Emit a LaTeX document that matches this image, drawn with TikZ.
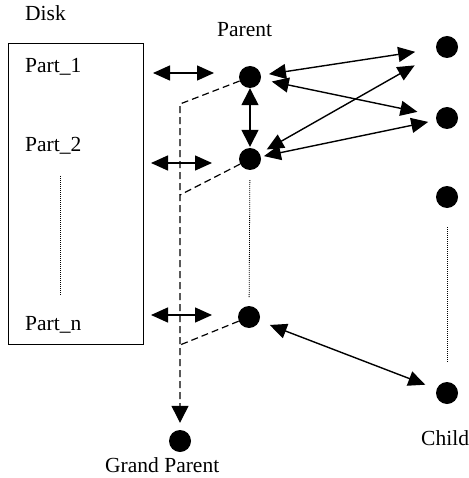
\documentclass[tikz,border=0pt]{standalone}
\usepackage{fontspec}
\setmainfont{Liberation Serif}
\usetikzlibrary{arrows.meta,positioning}

\tikzset{
  dot/.style={circle,fill=black,inner sep=0pt,minimum size=22pt},
  biarr/.style={{Triangle[length=17pt,width=15pt]}-{Triangle[length=17pt,width=15pt]},line width=1.4pt},
  dashline/.style={dash pattern=on 7pt off 4pt,line width=1.2pt},
  dotline/.style={dash pattern=on 1pt off 1pt,line width=0.8pt},
  lbl/.style={anchor=base west,inner sep=0pt,font=\fontsize{21.5}{24}\selectfont}
}

\begin{document}
\begin{tikzpicture}[x=1pt,y=-1pt]
\useasboundingbox (0,0) rectangle (468,478);

% Disk and its parts
\node[draw,line width=1pt,anchor=north west,inner sep=0pt,minimum width=135pt,minimum height=301pt] (disk) at (8,43) {};
\node[lbl] (disklbl) at (25,21) {Disk};
\foreach \n/\y in {1/73,2/152,n/330}
  \node[lbl] (part\n) at (25,\y) {Part\_\n};
\coordinate (d1) at (60,176);
\coordinate (d2) at (60,295);
\draw[dotline] (d1) -- (d2);

% Links between disk and parents
\foreach \i/\y/\xa/\xb in {1/73/153/214, 2/163/151/212, n/315/151/212} {
  \coordinate (al\i) at (\xa,\y);
  \coordinate (ar\i) at (\xb,\y);
  \draw[biarr] (al\i) -- (ar\i);
}

% Parents
\foreach \i/\y in {1/77,2/159}
  \node[dot] (p\i) at (250,\y) {};
\node[dot] (pn) at (249,317) {};
\node[lbl] (parentlbl) at (217,37) {Parent};
\draw[dotline,shorten <=10pt,shorten >=8pt] (p2) -- (pn);

% Children
\foreach \i/\y in {1/47,2/118,3/197,4/393}
  \node[dot] (c\i) at (447,\y) {};
\node[lbl] (childlbl) at (421,445) {Child};
\draw[dotline,shorten <=19pt,shorten >=19pt] (c3) -- (c4);

% Grand parent
\node[dot] (gp) at (180,441) {};
\node[lbl] (gplbl) at (105,472) {Grand Parent};

% Dashed links to grand parent
\coordinate (j1) at (180,104);
\coordinate (j2) at (180,195);
\coordinate (j3) at (180,345);
\draw[dashline,-{Triangle[length=17pt,width=17pt]},shorten >=7pt] (p1) -- (j1) -- (gp);
\draw[dashline] (p2) -- (j2);
\draw[dashline] (pn) -- (j3);

% Parent-child links
\draw[biarr,shorten <=8pt,shorten >=21pt] (p1) -- (c1);
\draw[biarr,shorten <=11pt,shorten >=19pt] (p1) -- (c2);
\draw[biarr,shorten <=8pt,shorten >=26pt] (p2) -- (c1);
\draw[biarr,shorten <=3pt,shorten >=8pt] (p2) -- (c2);
\draw[biarr,{Triangle[length=17pt,width=17pt]}-{Triangle[length=17pt,width=17pt]},shorten >=1pt] (p1) -- (p2);
\draw[biarr,shorten <=11pt,shorten >=12pt] (pn) -- (c4);
\end{tikzpicture}
\end{document}
